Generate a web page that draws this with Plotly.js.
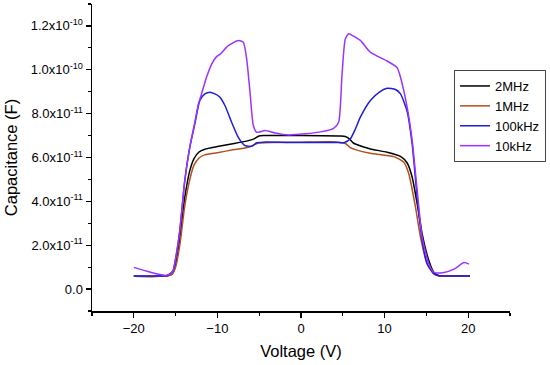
<!DOCTYPE html>
<html>
<head>
<meta charset="utf-8">
<script src="https://cdn.plot.ly/plotly-3.0.1.min.js"></script>
<style>html,body{margin:0;padding:0;background:#fff;}#chart{width:550px;height:365px;}</style>
</head>
<body>
<div id="chart"></div>
<script>
// Capacitance values are in units of 1e-11 F
var v2MHz = [-20,-17,-16,-15.4,-15.0,-14.5,-13.9,-13.3,-12.8,-12.2,-11.5,-10,-8,-6.3,-5.6,-5.1,-4.5,0,4.7,5.3,5.8,6.3,7.5,8.3,10.3,11.9,12.7,13.3,13.9,14.5,15.3,15.9,16.5,18,20.2];
var c2MHz = [0.58,0.58,0.6,0.7,1.1,2.3,4.18,5.4,5.95,6.25,6.38,6.5,6.64,6.77,6.85,6.97,7.0,7.0,6.98,6.96,6.85,6.65,6.48,6.39,6.24,6.05,5.75,5.1,3.88,2.51,1.29,0.76,0.61,0.6,0.6];

var v1MHz = [-20,-17,-16,-15.4,-15.0,-14.5,-13.9,-13.3,-12.8,-12.2,-11.5,-10,-8,-6.3,-5.6,-5.1,0,3.5,5.3,5.9,6.5,8.3,11.1,12.3,12.9,13.7,14.3,15.1,15.9,16.5,20.2];
var c1MHz = [0.58,0.58,0.6,0.68,1.0,2.0,3.8,5.0,5.65,5.98,6.12,6.22,6.36,6.47,6.58,6.66,6.7,6.72,6.64,6.45,6.36,6.19,6.04,5.78,5.25,3.73,2.36,1.14,0.68,0.6,0.6];

var v100kHz = [-20,-17,-16,-15.5,-15.3,-14.9,-14.5,-13.9,-13.3,-12.7,-12.1,-11.5,-10.9,-10.3,-9.7,-9.1,-8.3,-7.5,-6.7,-5.9,-5.3,-4.5,0,4.5,5.2,5.9,6.5,7.1,8.3,9.5,10.3,11.3,11.9,12.7,13.3,13.9,14.5,15.1,15.9,16.5,20.2];
var c100kHz = [0.6,0.6,0.62,0.75,0.84,1.6,2.66,4.95,6.47,7.53,8.6,8.9,8.98,8.9,8.75,8.37,7.61,6.92,6.54,6.51,6.67,6.7,6.68,6.68,6.68,6.85,7.3,7.84,8.6,9.02,9.16,9.1,8.9,8.1,6.6,4.18,2.2,1.14,0.7,0.61,0.6];

var v10kHz = [-20,-19.3,-18.3,-17.1,-16.2,-15.6,-15.3,-14.9,-14.5,-13.9,-13.3,-12.7,-12.3,-11.9,-11.3,-10.7,-10.1,-9.7,-8.7,-7.5,-6.9,-6.5,-6.1,-5.7,-5.3,-4.3,-3.1,-1.5,0.5,2.5,3.9,4.5,4.9,5.3,5.7,6.1,7.1,8.3,10.3,11.5,11.9,12.7,13.3,13.9,14.5,15.3,15.9,17.1,18.3,19.5,20.1];
var c10kHz = [0.99,0.91,0.8,0.68,0.62,0.7,0.84,1.6,2.66,4.95,6.47,7.6,8.4,8.9,9.66,10.25,10.6,10.7,11.1,11.34,11.26,10.5,8.98,7.46,7.15,7.23,7.12,7.03,7.08,7.18,7.33,7.61,9.74,11.4,11.64,11.57,11.34,10.8,10.4,10.1,9.66,8.29,6.77,4.49,2.36,1.14,0.76,0.76,0.91,1.21,1.14];

var seriesNames = ['2MHz','1MHz','100kHz','10kHz'];
var seriesColors = ['#000000','#b0501e','#1e1ed8','#9a33ff'];
var seriesX = [v2MHz, v1MHz, v100kHz, v10kHz];
var seriesY = [c2MHz, c1MHz, c100kHz, c10kHz];

var yTickVals = [0, 2e-11, 4e-11, 6e-11, 8e-11, 1.0e-10, 1.2e-10];
var yTickText = ['0.0','2.0x10<sup>-11</sup>','4.0x10<sup>-11</sup>','6.0x10<sup>-11</sup>','8.0x10<sup>-11</sup>','1.0x10<sup>-10</sup>','1.2x10<sup>-10</sup>'];

var traces = seriesNames.map(function(n, i){
  return {
    x: seriesX[i],
    y: seriesY[i].map(function(c){ return c * 1e-11; }),
    name: n,
    type: 'scatter',
    mode: 'lines',
    line: {color: seriesColors[i], width: 1.5, shape: 'spline', smoothing: 0.6}
  };
});

var font = 'Arial, "Liberation Sans", sans-serif';
var layout = {
  width: 550, height: 365,
  margin: {l: 92, r: 40, t: 4, b: 54},
  paper_bgcolor: '#ffffff', plot_bgcolor: '#ffffff',
  font: {family: font, color: '#000', size: 13},
  showlegend: true,
  legend: {
    x: 0.866, y: 0.785, xanchor: 'left', yanchor: 'top',
    bordercolor: '#444', borderwidth: 1, bgcolor: '#ffffff',
    font: {family: font, size: 13, color: '#000'},
    tracegroupgap: 0
  },
  xaxis: {
    range: [-25, 25], tickmode: 'linear', tick0: 0, dtick: 10,
    showgrid: false, zeroline: false, showline: true, linecolor: '#000', linewidth: 1.5,
    ticks: 'outside', ticklen: 5, tickwidth: 1.2, tickcolor: '#000',
    minor: {tickmode: 'linear', tick0: 5, dtick: 10, ticks: 'outside', ticklen: 3, tickwidth: 1.2, tickcolor: '#000'},
    tickfont: {family: font, size: 13},
    title: {text: 'Voltage (V)', font: {family: font, size: 16.5}, standoff: 10}
  },
  yaxis: {
    range: [-1e-11, 1.3e-10], tickmode: 'array', tickvals: yTickVals, ticktext: yTickText,
    showgrid: false, zeroline: false, showline: true, linecolor: '#000', linewidth: 1.5,
    ticks: 'outside', ticklen: 5, tickwidth: 1.2, tickcolor: '#000',
    minor: {tickmode: 'linear', tick0: 1e-11, dtick: 2e-11, ticks: 'outside', ticklen: 3, tickwidth: 1.2, tickcolor: '#000'},
    tickfont: {family: font, size: 13},
    title: {text: 'Capacitance (F)', font: {family: font, size: 16.5}, standoff: 9}
  }
};

Plotly.newPlot('chart', traces, layout, {displayModeBar: false, staticPlot: true});
</script>
</body>
</html>
